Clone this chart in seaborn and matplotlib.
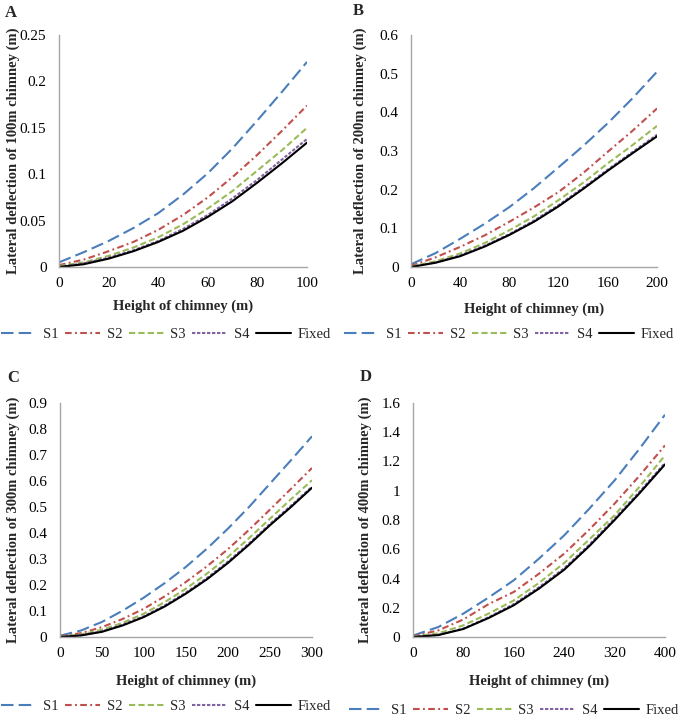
import numpy as np
import pandas as pd
import matplotlib
matplotlib.use("Agg")
import matplotlib.pyplot as plt
import seaborn as sns
from matplotlib.ticker import FuncFormatter

# ---------------- data ----------------
series_names = ["S1", "S2", "S3", "S4", "Fixed"]

# Panel A: 100 m chimney
height_A = [0, 10, 20, 30, 40, 50, 60, 70, 80, 90, 100]
A_S1 = [0.005, 0.016, 0.028, 0.042, 0.058, 0.078, 0.101, 0.128, 0.158, 0.189, 0.221]
A_S2 = [0.002, 0.008, 0.017, 0.027, 0.040, 0.056, 0.075, 0.097, 0.121, 0.147, 0.174]
A_S3 = [0.001, 0.005, 0.012, 0.021, 0.032, 0.046, 0.063, 0.082, 0.104, 0.126, 0.150]
A_S4 = [0.000, 0.004, 0.010, 0.018, 0.028, 0.041, 0.056, 0.074, 0.094, 0.116, 0.138]
A_Fixed = [0.000, 0.003, 0.009, 0.017, 0.027, 0.039, 0.054, 0.071, 0.091, 0.112, 0.134]

# Panel B: 200 m chimney
height_B = [0, 20, 40, 60, 80, 100, 120, 140, 160, 180, 200]
B_S1 = [0.007, 0.036, 0.073, 0.112, 0.155, 0.204, 0.258, 0.313, 0.372, 0.436, 0.505]
B_S2 = [0.003, 0.025, 0.052, 0.082, 0.117, 0.154, 0.194, 0.243, 0.298, 0.352, 0.410]
B_S3 = [0.001, 0.015, 0.035, 0.062, 0.095, 0.131, 0.173, 0.218, 0.268, 0.315, 0.365]
B_S4 = [0.000, 0.012, 0.030, 0.055, 0.085, 0.120, 0.160, 0.205, 0.252, 0.297, 0.342]
B_Fixed = [0.000, 0.011, 0.028, 0.053, 0.083, 0.117, 0.157, 0.202, 0.249, 0.294, 0.338]

# Panel C: 300 m chimney
height_C = [0, 25, 50, 75, 100, 125, 150, 175, 200, 225, 250, 275, 300]
C_S1 = [0.005, 0.025, 0.058, 0.102, 0.152, 0.208, 0.270, 0.340, 0.417, 0.500, 0.590, 0.680, 0.772]
C_S2 = [0.003, 0.015, 0.038, 0.070, 0.109, 0.157, 0.212, 0.272, 0.338, 0.412, 0.490, 0.570, 0.650]
C_S3 = [0.001, 0.010, 0.028, 0.055, 0.090, 0.135, 0.186, 0.244, 0.308, 0.380, 0.455, 0.530, 0.603]
C_S4 = [0.000, 0.007, 0.022, 0.048, 0.080, 0.122, 0.171, 0.227, 0.290, 0.360, 0.435, 0.505, 0.578]
C_Fixed = [0.000, 0.006, 0.020, 0.045, 0.077, 0.118, 0.167, 0.222, 0.285, 0.355, 0.430, 0.500, 0.574]

# Panel D: 400 m chimney
height_D = [0, 40, 80, 120, 160, 200, 240, 280, 320, 360, 400]
D_S1 = [0.010, 0.068, 0.160, 0.270, 0.388, 0.536, 0.695, 0.878, 1.071, 1.290, 1.520]
D_S2 = [0.005, 0.045, 0.120, 0.225, 0.308, 0.433, 0.570, 0.735, 0.912, 1.105, 1.310]
D_S3 = [0.003, 0.025, 0.080, 0.160, 0.250, 0.370, 0.506, 0.668, 0.833, 1.030, 1.242]
D_S4 = [0.000, 0.015, 0.058, 0.135, 0.225, 0.340, 0.470, 0.632, 0.810, 0.995, 1.190]
D_Fixed = [0.000, 0.013, 0.055, 0.130, 0.217, 0.331, 0.460, 0.622, 0.800, 0.985, 1.180]

panel_letters = ["A", "B", "C", "D"]
chimney_labels = ["100m", "200m", "300m", "400m"]
x_ticks = [[0, 20, 40, 60, 80, 100], [0, 40, 80, 120, 160, 200],
           [0, 50, 100, 150, 200, 250, 300], [0, 80, 160, 240, 320, 400]]
y_ticks = [[0, 0.05, 0.1, 0.15, 0.2, 0.25], [0, 0.1, 0.2, 0.3, 0.4, 0.5, 0.6],
           [0, 0.1, 0.2, 0.3, 0.4, 0.5, 0.6, 0.7, 0.8, 0.9],
           [0, 0.2, 0.4, 0.6, 0.8, 1.0, 1.2, 1.4, 1.6]]

panels = [
    (height_A, [A_S1, A_S2, A_S3, A_S4, A_Fixed]),
    (height_B, [B_S1, B_S2, B_S3, B_S4, B_Fixed]),
    (height_C, [C_S1, C_S2, C_S3, C_S4, C_Fixed]),
    (height_D, [D_S1, D_S2, D_S3, D_S4, D_Fixed]),
]

# ---------------- style ----------------
sns.set_theme(style="white")
plt.rcParams["font.family"] = ["Liberation Serif", "DejaVu Serif"]

colors = ["#4A7EBB", "#C0504D", "#9BBB59", "#8064A2", "#000000"]
styles = [(0, (6, 2.5)), (0, (3.2, 1.6, 0.9, 1.6)), (0, (3, 1.5)), (0, (1.6, 0.8)), "-"]
lw = 1.5

W, H = 685, 718
fig = plt.figure(figsize=(W / 100, H / 100), dpi=100)
fig.patch.set_facecolor("white")

# axes boxes in pixel coords: left, right, top, bottom
boxes = [(59, 307, 35, 267), (411, 657, 35, 267), (60, 312, 403, 637), (413, 665, 403, 637)]
letter_pos = [(11, 13), (358, 11), (13, 378), (366, 377)]
legend_pos = [(166, 334), (509, 334), (166, 706), (514, 710)]
ylabel_x = [20, 367, 20, 372]
xlabel_y = [300, 303, 675, 675]

gray = "#A6A6A6"
fmt = FuncFormatter(lambda v, p: ("%g" % round(v, 3)))

for i, (heights, vals) in enumerate(panels):
    l, r, t, b = boxes[i]
    ax = fig.add_axes([l / W, 1 - b / H, (r - l) / W, (b - t) / H])
    for name, v, c, ls in zip(series_names, vals, colors, styles):
        sns.lineplot(x=heights, y=v, ax=ax, color=c, linestyle=ls, linewidth=lw,
                     label=name, legend=False)
    ax.set_xlim(x_ticks[i][0], x_ticks[i][-1])
    ax.set_ylim(y_ticks[i][0], y_ticks[i][-1])
    ax.set_xticks(x_ticks[i])
    ax.set_yticks(y_ticks[i])
    ax.yaxis.set_major_formatter(fmt)
    ax.xaxis.set_major_formatter(fmt)
    ax.tick_params(axis="both", length=0, labelsize=11, colors="black")
    ax.tick_params(axis="y", pad=9)
    ax.tick_params(axis="x", pad=7)
    for s in ["top", "right"]:
        ax.spines[s].set_visible(False)
    for s in ["left", "bottom"]:
        ax.spines[s].set_color(gray)
        ax.spines[s].set_linewidth(1.0)
    ax.set_xlabel("Height of chimney (m)", fontsize=10.5, fontweight="bold")
    ax.set_ylabel("Lateral deflection of %s chimney (m)" % chimney_labels[i],
                  fontsize=10.5, fontweight="bold")
    ax.yaxis.set_label_coords((ylabel_x[i] - l) / (r - l), 0.5)
    ax.xaxis.set_label_coords(0.5, -(xlabel_y[i] - b) / (b - t))
    ax.set_facecolor("white")

    lx, ly = letter_pos[i]
    fig.text(lx / W, 1 - ly / H, panel_letters[i], fontsize=12, fontweight="bold",
             ha="center", va="center")

    handles, labels = ax.get_legend_handles_labels()
    fig.legend(handles, labels, loc="center",
               bbox_to_anchor=(legend_pos[i][0] / W, 1 - legend_pos[i][1] / H),
               ncol=5, frameon=False, fontsize=10.5, handlelength=2.4,
               handletextpad=0.45, columnspacing=0.45, borderpad=0.1)

fig.savefig("out.png", dpi=100, facecolor="white")
